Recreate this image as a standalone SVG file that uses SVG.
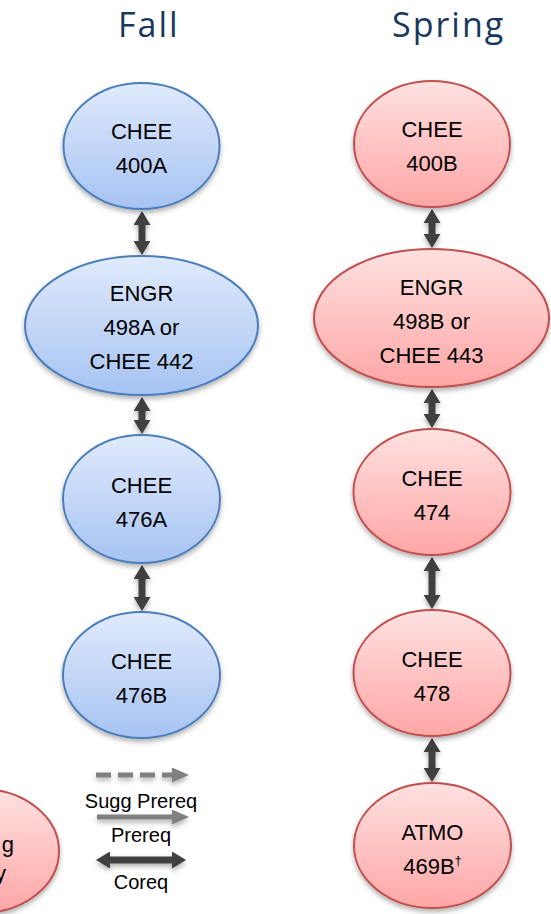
<svg xmlns="http://www.w3.org/2000/svg" width="551" height="914" viewBox="0 0 551 914">
<style>
.hdr{font-family:"Open Sans","DejaVu Sans",sans-serif;font-size:34px;fill:#17375e;letter-spacing:2px}
.lbl{font-family:"Liberation Sans","Arimo",sans-serif;font-size:22px;fill:#000;text-anchor:middle}
.leg{font-family:"Liberation Sans","Arimo",sans-serif;font-size:20px;fill:#000;text-anchor:middle}
.fall{fill:url(#gBlue);stroke:#4a7ebb;stroke-width:2}
.spr{fill:url(#gRed);stroke:#c0504d;stroke-width:2}
.co{stroke:#404040;stroke-width:7;fill:none;marker-start:url(#hDark);marker-end:url(#hDark)}
.pre{stroke:#808080;stroke-width:5;fill:none;marker-end:url(#hGray)}
</style>
<defs>
<linearGradient id="gBlue" x1="0" y1="0" x2="0" y2="1">
<stop offset="0" stop-color="#e0eafc"/>
<stop offset="1" stop-color="#a6c3f2"/>
</linearGradient>
<linearGradient id="gRed" x1="0" y1="0" x2="0" y2="1">
<stop offset="0" stop-color="#ffe1e1"/>
<stop offset="1" stop-color="#ffa6a6"/>
</linearGradient>
<filter id="sh" filterUnits="userSpaceOnUse" x="-100" y="-100" width="800" height="1150">
<feDropShadow dx="0" dy="3" stdDeviation="2.5" flood-color="#000" flood-opacity="0.3"/>
</filter>
<marker id="hDark" viewBox="0 0 14 17" refX="0" refY="8.5" markerWidth="14" markerHeight="17" markerUnits="userSpaceOnUse" orient="auto-start-reverse">
<path d="M0,0 L14,8.5 L0,17 Z" fill="#404040"/>
</marker>
<marker id="hGray" viewBox="0 0 17 15" refX="0" refY="7.5" markerWidth="17" markerHeight="15" markerUnits="userSpaceOnUse" orient="auto">
<path d="M0,0 L17,7.5 L0,15 Z" fill="#808080"/>
</marker>
</defs>
<rect width="551" height="914" fill="#fff"/>

<text class="hdr" x="118" y="37">Fall</text>
<text class="hdr" x="392" y="37">Spring</text>

<g id="connectors" filter="url(#sh)">
<line class="co" x1="142" y1="225" x2="142" y2="241"/>
<line class="co" x1="142" y1="411" x2="142" y2="420"/>
<line class="co" x1="142" y1="579" x2="142" y2="597"/>
<line class="co" x1="432" y1="223" x2="432" y2="234"/>
<line class="co" x1="432" y1="403" x2="432" y2="414"/>
<line class="co" x1="432" y1="571" x2="432" y2="595"/>
<line class="co" x1="432" y1="752" x2="432" y2="768"/>
</g>

<g id="fall-chee400a">
<ellipse class="fall" cx="141.5" cy="146" rx="78" ry="63" filter="url(#sh)"/>
<text class="lbl" x="141.5" y="139">CHEE</text>
<text class="lbl" x="141.5" y="173">400A</text>
</g>
<g id="fall-engr498a">
<ellipse class="fall" cx="141.5" cy="325.5" rx="116.5" ry="69.5" filter="url(#sh)"/>
<text class="lbl" x="141.5" y="301">ENGR</text>
<text class="lbl" x="141.5" y="335">498A or</text>
<text class="lbl" x="141.5" y="369">CHEE 442</text>
</g>
<g id="fall-chee476a">
<ellipse class="fall" cx="141.5" cy="499" rx="78.5" ry="64" filter="url(#sh)"/>
<text class="lbl" x="141.5" y="493">CHEE</text>
<text class="lbl" x="141.5" y="527">476A</text>
</g>
<g id="fall-chee476b">
<ellipse class="fall" cx="141.5" cy="675" rx="78.5" ry="63" filter="url(#sh)"/>
<text class="lbl" x="141.5" y="669">CHEE</text>
<text class="lbl" x="141.5" y="703">476B</text>
</g>

<g id="spring-chee400b">
<ellipse class="spr" cx="432" cy="144" rx="78" ry="63" filter="url(#sh)"/>
<text class="lbl" x="432" y="137">CHEE</text>
<text class="lbl" x="432" y="171">400B</text>
</g>
<g id="spring-engr498b">
<ellipse class="spr" cx="431.5" cy="318" rx="117.5" ry="69" filter="url(#sh)"/>
<text class="lbl" x="431.5" y="295">ENGR</text>
<text class="lbl" x="431.5" y="329">498B or</text>
<text class="lbl" x="431.5" y="363">CHEE 443</text>
</g>
<g id="spring-chee474">
<ellipse class="spr" cx="432" cy="492" rx="78.5" ry="63" filter="url(#sh)"/>
<text class="lbl" x="432" y="486">CHEE</text>
<text class="lbl" x="432" y="520">474</text>
</g>
<g id="spring-chee478">
<ellipse class="spr" cx="432" cy="673" rx="78.5" ry="63" filter="url(#sh)"/>
<text class="lbl" x="432" y="667">CHEE</text>
<text class="lbl" x="432" y="701">478</text>
</g>
<g id="spring-atmo469b">
<ellipse class="spr" cx="432.5" cy="845.5" rx="78.5" ry="62.5" filter="url(#sh)"/>
<text class="lbl" x="432.5" y="840">ATMO</text>
<text class="lbl" x="432.5" y="874">469B<tspan font-size="13" dy="-9">†</tspan></text>
</g>

<g id="partial-node">
<ellipse class="spr" cx="-19" cy="851" rx="78" ry="62" filter="url(#sh)"/>
<text class="lbl" x="14" y="852" style="text-anchor:end">g</text>
<text class="lbl" x="6" y="881" style="text-anchor:end">y</text>
</g>

<g id="legend">
<line class="pre" x1="96" y1="775" x2="172" y2="775" stroke-dasharray="15 7" filter="url(#sh)"/>
<text class="leg" x="141" y="808">Sugg Prereq</text>
<line class="pre" x1="97" y1="817" x2="172" y2="817" filter="url(#sh)"/>
<text class="leg" x="141" y="842">Prereq</text>
<line class="co" x1="110" y1="860" x2="172" y2="860" filter="url(#sh)"/>
<text class="leg" x="141" y="889">Coreq</text>
</g>
</svg>
